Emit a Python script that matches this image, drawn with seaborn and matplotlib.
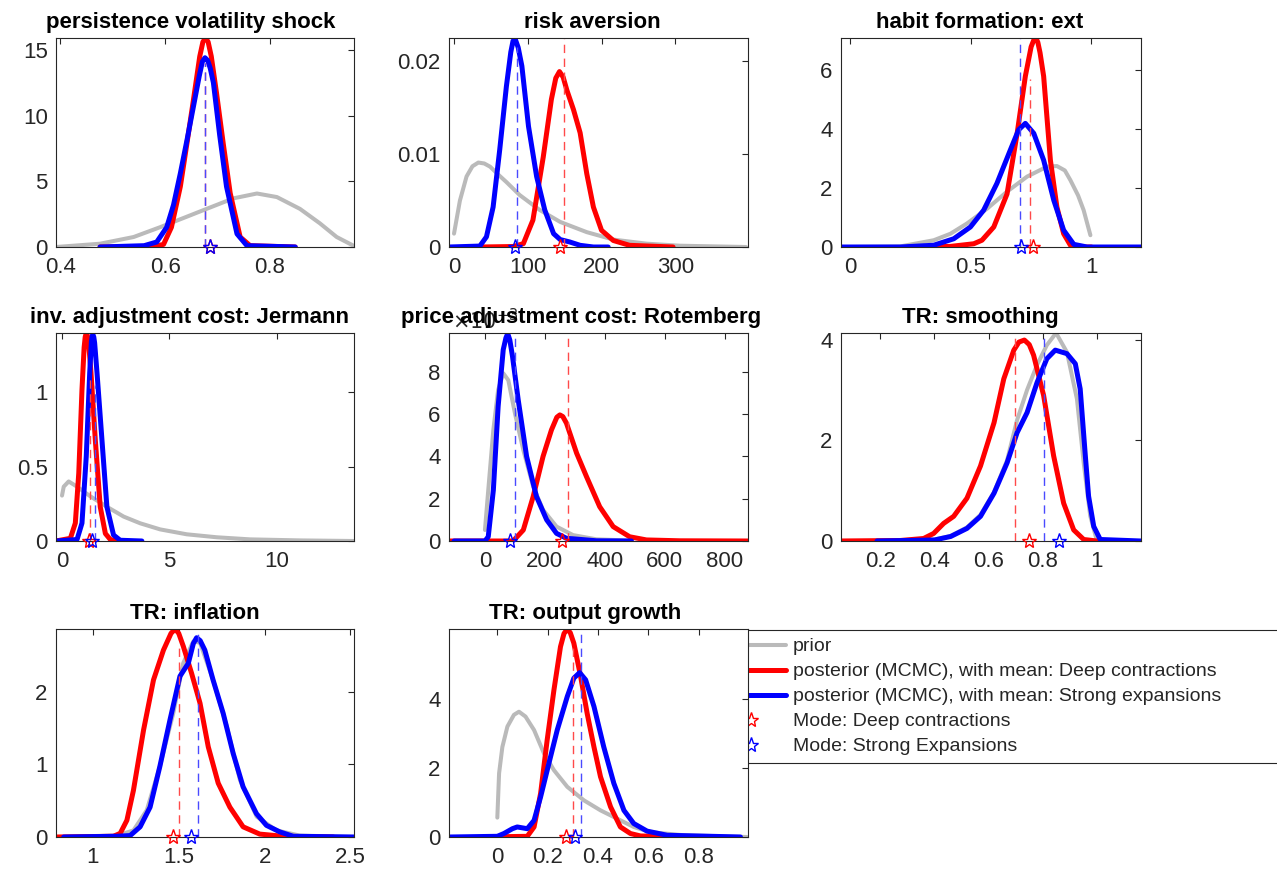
import matplotlib
matplotlib.use("Agg")
import matplotlib.pyplot as plt
import seaborn as sns
from matplotlib.lines import Line2D

# ---- data ----
titles = [
    "persistence volatility shock", "risk aversion", "habit formation: ext",
    "inv. adjustment cost: Jermann", "price adjustment cost: Rotemberg", "TR: smoothing",
    "TR: inflation", "TR: output growth",
]

# persistence volatility shock
pvs_prior_x = [0.392, 0.476, 0.54, 0.59, 0.641, 0.679, 0.73, 0.775, 0.813, 0.857, 0.895, 0.927, 0.959]
pvs_prior_y = [0.0, 0.25, 0.76, 1.5, 2.3, 2.9, 3.7, 4.07, 3.8, 2.9, 1.8, 0.76, 0.1]
pvs_red_x = [0.476, 0.58, 0.597, 0.612, 0.629, 0.642, 0.654, 0.666, 0.672, 0.677, 0.682, 0.688, 0.698,
             0.711, 0.724, 0.743, 0.762, 0.848]
pvs_red_y = [0, 0.05, 0.2, 1.5, 4.6, 8.0, 11.2, 14.5, 15.6, 15.9, 15.6, 14.5, 11.7, 7.8, 4.1, 0.76, 0.1, 0]
pvs_blue_x = [0.476, 0.56, 0.584, 0.603, 0.616, 0.629, 0.642, 0.654, 0.665, 0.671, 0.676, 0.681, 0.686,
              0.692, 0.704, 0.717, 0.737, 0.756, 0.848]
pvs_blue_y = [0, 0.1, 0.38, 1.5, 3.2, 5.6, 8.2, 10.7, 13.0, 14.1, 14.4, 14.2, 13.6, 12.5, 8.5, 4.6, 1.0,
              0.1, 0]

# risk aversion
ra_prior_x = [0, 8, 17, 25, 33, 41, 49, 60, 71, 89, 116, 144, 180, 216, 261, 306, 396]
ra_prior_y = [0.00144, 0.005, 0.0076, 0.0087, 0.0091, 0.009, 0.00865, 0.0078, 0.007, 0.0056, 0.004,
              0.0027, 0.0016, 0.0008, 0.00036, 0.00014, 0.0]
ra_red_x = [35, 80, 94, 107, 121, 132, 138, 143, 148, 153, 162, 171, 180, 189, 200, 216, 238, 297]
ra_red_y = [0, 0.00005, 0.00036, 0.0029, 0.0097, 0.0159, 0.0182, 0.0189, 0.0183, 0.0169, 0.0148,
            0.0123, 0.0079, 0.0043, 0.0018, 0.0007, 0.00018, 0]
ra_blue_x = [-7, 35, 44, 53, 62, 71, 77, 80, 83, 87, 92, 101, 112, 123, 135, 144, 157, 171, 189, 209]
ra_blue_y = [0, 0.0001, 0.0011, 0.0043, 0.0105, 0.0173, 0.021, 0.0222, 0.0224, 0.0215, 0.0195, 0.013,
             0.0076, 0.004, 0.00144, 0.0008, 0.00054, 0.00018, 0.0, 0.0]

# habit formation
hab_prior_x = [0, 0.207, 0.346, 0.415, 0.484, 0.567, 0.65, 0.733, 0.816, 0.857, 0.89, 0.913, 0.945, 0.968, 0.996]
hab_prior_y = [0, 0.02, 0.23, 0.45, 0.8, 1.3, 1.88, 2.39, 2.73, 2.75, 2.6, 2.27, 1.75, 1.25, 0.4]
hab_red_x = [0.29, 0.415, 0.512, 0.546, 0.595, 0.65, 0.692, 0.726, 0.75, 0.762, 0.77, 0.778, 0.787, 0.802,
             0.83, 0.857, 0.885, 0.913, 0.954, 1.0]
hab_red_y = [0, 0.02, 0.11, 0.23, 0.68, 1.8, 3.86, 5.8, 6.8, 7.05, 7.1, 6.95, 6.6, 5.8, 2.95, 1.36, 0.45,
             0.06, 0, 0]
hab_blue_x = [-0.039, 0.207, 0.346, 0.429, 0.498, 0.553, 0.608, 0.664, 0.698, 0.726, 0.761, 0.802, 0.844,
              0.885, 0.927, 0.982, 1.206]
hab_blue_y = [0, 0, 0.06, 0.28, 0.68, 1.25, 2.16, 3.3, 3.98, 4.2, 3.86, 2.95, 1.59, 0.57, 0.09, 0, 0]

# investment adjustment cost
jer_prior_x = [0, 0.08, 0.31, 0.7, 1.32, 2.09, 2.87, 3.64, 4.57, 5.81, 7.21, 8.76, 11.1, 13.6]
jer_prior_y = [0.305, 0.365, 0.4, 0.365, 0.3, 0.23, 0.164, 0.119, 0.078, 0.045, 0.025, 0.011, 0.004, 0.0]
jer_red_x = [-0.28, 0.39, 0.62, 0.78, 0.93, 1.03, 1.08, 1.13, 1.18, 1.24, 1.35, 1.55, 1.78, 2.02, 2.25, 2.56]
jer_red_y = [0, 0.018, 0.12, 0.455, 1.016, 1.3, 1.37, 1.397, 1.38, 1.33, 1.13, 0.68, 0.23, 0.05, 0.01, 0]
jer_blue_x = [-0.28, 0.7, 0.93, 1.13, 1.29, 1.37, 1.41, 1.44, 1.48, 1.52, 1.63, 1.86, 2.09, 2.4, 2.71, 3.72]
jer_blue_y = [0, 0.01, 0.12, 0.57, 1.13, 1.34, 1.38, 1.386, 1.37, 1.33, 1.13, 0.68, 0.23, 0.04, 0.005, 0]

# price adjustment cost
rot_prior_x = [0, 11, 28, 44, 61, 78, 100, 128, 161, 194, 239, 294, 372, 483]
rot_prior_y = [0.00052, 0.0024, 0.00525, 0.00714, 0.00793, 0.0076, 0.00604, 0.0043, 0.00257, 0.00147,
               0.00068, 0.00028, 0.00008, 0.00002]
rot_red_x = [-120, 94, 128, 161, 194, 222, 240, 250, 260, 272, 306, 339, 383, 428, 483, 539, 650, 878]
rot_red_y = [0, 0, 0.00052, 0.0021, 0.004, 0.00525, 0.00585, 0.00596, 0.00588, 0.00557, 0.00415, 0.00304,
             0.00162, 0.00068, 0.0002, 0.00005, 0.00001, 0]
rot_blue_x = [-103, 0, 11, 28, 44, 61, 70, 76, 83, 92, 111, 139, 172, 206, 239, 272, 372, 489]
rot_blue_y = [0, 0, 0.0002, 0.0024, 0.00636, 0.00904, 0.0096, 0.0098, 0.0095, 0.00872, 0.00667, 0.004,
              0.0021, 0.001, 0.00036, 0.00013, 0.00001, 0]

# TR smoothing
sm_prior_x = [0.0, 0.3, 0.4, 0.46, 0.52, 0.57, 0.62, 0.668, 0.705, 0.742, 0.779, 0.815, 0.849, 0.889,
              0.926, 0.951, 0.975, 1.0]
sm_prior_y = [0, 0.005, 0.03, 0.1, 0.27, 0.52, 0.97, 1.6, 2.4, 3.0, 3.5, 3.89, 4.13, 3.75, 2.82, 1.55, 0.5, 0]
sm_red_x = [0.055, 0.274, 0.36, 0.397, 0.434, 0.471, 0.52, 0.57, 0.62, 0.656, 0.693, 0.712, 0.732, 0.75,
            0.766, 0.803, 0.84, 0.877, 0.914, 0.951, 1.0]
sm_red_y = [0, 0.01, 0.05, 0.15, 0.35, 0.49, 0.85, 1.49, 2.35, 3.22, 3.79, 3.95, 3.99, 3.9, 3.69, 2.89,
            1.69, 0.75, 0.22, 0.03, 0]
sm_blue_x = [0.188, 0.4, 0.46, 0.52, 0.57, 0.62, 0.668, 0.705, 0.742, 0.779, 0.815, 0.846, 0.889, 0.92,
             0.938, 0.957, 0.969, 0.988, 1.012, 1.1625]
sm_blue_y = [0, 0.02, 0.09, 0.25, 0.49, 0.95, 1.55, 2.15, 2.55, 3.15, 3.62, 3.79, 3.72, 3.52, 3.02, 1.69,
             0.89, 0.29, 0.03, 0]

# TR inflation
inf_prior_x = [0.83, 1.14, 1.236, 1.314, 1.39, 1.468, 1.526, 1.585, 1.624, 1.7, 1.78, 1.857, 1.954, 2.07,
               2.205, 2.521]
inf_prior_y = [0, 0.02, 0.09, 0.37, 0.97, 1.7, 2.39, 2.69, 2.67, 2.16, 1.52, 0.78, 0.28, 0.09, 0.02, 0]
inf_red_x = [0.785, 1.12, 1.159, 1.198, 1.236, 1.295, 1.353, 1.411, 1.455, 1.479, 1.5, 1.527, 1.575, 1.624,
             1.672, 1.73, 1.798, 1.875, 1.972, 2.108, 2.4]
inf_red_y = [0, 0.01, 0.05, 0.23, 0.64, 1.47, 2.16, 2.57, 2.8, 2.86, 2.8, 2.62, 2.25, 1.84, 1.24, 0.74,
             0.41, 0.14, 0.04, 0.01, 0]
inf_blue_x = [0.83, 1.14, 1.217, 1.275, 1.333, 1.39, 1.449, 1.507, 1.556, 1.585, 1.604, 1.625, 1.652, 1.7,
              1.759, 1.817, 1.875, 1.953, 2.011, 2.089, 2.167, 2.521]
inf_blue_y = [0, 0.01, 0.02, 0.14, 0.41, 0.97, 1.61, 2.21, 2.39, 2.66, 2.74, 2.7, 2.57, 2.16, 1.7, 1.15,
              0.69, 0.32, 0.16, 0.07, 0.01, 0]

# TR output growth
og_prior_x = [0, 0.007, 0.02, 0.04, 0.066, 0.086, 0.112, 0.146, 0.185, 0.225, 0.278, 0.344, 0.41, 0.476,
              0.542, 0.608, 0.741, 0.992]
og_prior_y = [0.56, 1.84, 2.6, 3.19, 3.53, 3.62, 3.48, 3.09, 2.42, 1.93, 1.45, 1.06, 0.77, 0.53, 0.29,
              0.14, 0.05, 0]
og_red_x = [-0.053, 0.119, 0.146, 0.172, 0.198, 0.225, 0.251, 0.265, 0.278, 0.29, 0.304, 0.331, 0.357,
            0.384, 0.41, 0.45, 0.489, 0.529, 0.569, 0.767]
og_red_y = [0, 0.02, 0.29, 1.26, 2.8, 4.25, 5.5, 5.88, 6.01, 5.9, 5.6, 4.64, 3.57, 2.6, 1.74, 0.87, 0.29,
            0.1, 0.03, 0]
og_blue_x = [-0.192, 0, 0.026, 0.06, 0.079, 0.119, 0.146, 0.172, 0.205, 0.238, 0.278, 0.304, 0.327,
             0.351, 0.384, 0.423, 0.463, 0.503, 0.542, 0.595, 0.675, 0.966]
og_blue_y = [0, 0.02, 0.1, 0.24, 0.29, 0.24, 0.48, 1.16, 2.13, 3.09, 4.06, 4.59, 4.75, 4.54, 3.77, 2.6,
             1.55, 0.77, 0.39, 0.17, 0.05, 0]

# posterior means (x, height of dashed line) and modes
red_mean = [(0.676, 14.0), (149, 0.0225), (0.747, 5.7), (1.29, 1.1),
            (278, 0.00983), (0.696, 4.13), (1.5, 2.62), (0.302, 5.5)]
blue_mean = [(0.676, 14.0), (86, 0.0216), (0.703, 7.1), (1.52, 1.05),
             (100, 0.00983), (0.806, 4.13), (1.614, 2.86), (0.331, 6.01)]
red_mode = [0.686, 143.6, 0.758, 1.24, 256, 0.748, 1.465, 0.271]
blue_mode = [0.686, 82.6, 0.708, 1.40, 83, 0.858, 1.57, 0.308]

xlims = [(0.392, 0.96), (-6.8, 398.6), (-0.039, 1.206), (-0.28, 13.6),
         (-120, 878), (0.055, 1.1625), (0.785, 2.521), (-0.192, 0.996)]
ylims = [15.9, 0.02252, 7.1, 1.397, 0.00983, 4.13, 2.86, 6.01]

xticks = [[0.4, 0.6, 0.8], [0, 100, 200, 300], [0, 0.5, 1], [0, 5, 10],
          [0, 200, 400, 600, 800], [0.2, 0.4, 0.6, 0.8, 1], [1, 1.5, 2, 2.5], [0, 0.2, 0.4, 0.6, 0.8]]
xticklabels = [["0.4", "0.6", "0.8"], ["0", "100", "200", "300"], ["0", "0.5", "1"], ["0", "5", "10"],
               ["0", "200", "400", "600", "800"], ["0.2", "0.4", "0.6", "0.8", "1"],
               ["1", "1.5", "2", "2.5"], ["0", "0.2", "0.4", "0.6", "0.8"]]
yticks = [[0, 5, 10, 15], [0, 0.01, 0.02], [0, 2, 4, 6], [0, 0.5, 1],
          [0, 0.002, 0.004, 0.006, 0.008], [0, 2, 4], [0, 1, 2], [0, 2, 4]]
yticklabels = [["0", "5", "10", "15"], ["0", "0.01", "0.02"], ["0", "2", "4", "6"], ["0", "0.5", "1"],
               ["0", "2", "4", "6", "8"], ["0", "2", "4"], ["0", "1", "2"], ["0", "2", "4"]]

legend_labels = ["prior", "posterior (MCMC), with mean: Deep contractions",
                 "posterior (MCMC), with mean: Strong expansions",
                 "Mode: Deep contractions", "Mode: Strong Expansions"]

priors = [(pvs_prior_x, pvs_prior_y), (ra_prior_x, ra_prior_y), (hab_prior_x, hab_prior_y),
          (jer_prior_x, jer_prior_y), (rot_prior_x, rot_prior_y), (sm_prior_x, sm_prior_y),
          (inf_prior_x, inf_prior_y), (og_prior_x, og_prior_y)]
reds = [(pvs_red_x, pvs_red_y), (ra_red_x, ra_red_y), (hab_red_x, hab_red_y),
        (jer_red_x, jer_red_y), (rot_red_x, rot_red_y), (sm_red_x, sm_red_y),
        (inf_red_x, inf_red_y), (og_red_x, og_red_y)]
blues = [(pvs_blue_x, pvs_blue_y), (ra_blue_x, ra_blue_y), (hab_blue_x, hab_blue_y),
         (jer_blue_x, jer_blue_y), (rot_blue_x, rot_blue_y), (sm_blue_x, sm_blue_y),
         (inf_blue_x, inf_blue_y), (og_blue_x, og_blue_y)]

# titles in the reference sit a little left of the axes centre (pixels)
title_shift = [-14, -6, -11, -16, -17, -11, -10, -13]

GREY = "#bababa"
RED = "#ff0000"
BLUE = "#0000ff"
RED_DASH = "#ff4a4a"
BLUE_DASH = "#4a4aff"
DARK = "#262626"


def main():
    sns.set_theme(style="white")
    plt.rcParams["font.family"] = ["Liberation Sans", "DejaVu Sans"]

    W, H = 1277, 876
    fig = plt.figure(figsize=(W / 100, H / 100), dpi=100)

    col_left = [56, 449, 841]
    col_width = [298, 299, 300]
    row_top = [38, 333, 629]
    row_height = [209, 208, 208]

    for i in range(8):
        r, c = divmod(i, 3)
        ax = fig.add_axes([col_left[c] / W, 1 - (row_top[r] + row_height[r]) / H,
                           col_width[c] / W, row_height[r] / H])

        lw = 3.6
        sns.lineplot(x=priors[i][0], y=priors[i][1], ax=ax, color=GREY, linewidth=2.9,
                     sort=False, estimator=None, solid_capstyle="round")
        sns.lineplot(x=reds[i][0], y=reds[i][1], ax=ax, color=RED, linewidth=lw,
                     sort=False, estimator=None, solid_capstyle="round")
        sns.lineplot(x=blues[i][0], y=blues[i][1], ax=ax, color=BLUE, linewidth=lw,
                     sort=False, estimator=None, solid_capstyle="round")

        ax.plot([red_mean[i][0]] * 2, [0, red_mean[i][1]], color=RED_DASH, lw=1.0,
                ls=(0, (6, 4)))
        ax.plot([blue_mean[i][0]] * 2, [0, blue_mean[i][1]], color=BLUE_DASH, lw=1.0,
                ls=(0, (6, 4)))
        ax.plot([red_mode[i]], [0], marker="*", ms=11, mfc="none", mec=RED, mew=1.0,
                ls="none", clip_on=False, zorder=5)
        ax.plot([blue_mode[i]], [0], marker="*", ms=11, mfc="none", mec=BLUE, mew=1.0,
                ls="none", clip_on=False, zorder=5)

        ax.set_xlim(*xlims[i])
        ax.set_ylim(0, ylims[i])
        ax.set_xticks(xticks[i], xticklabels[i])
        ax.set_yticks(yticks[i], yticklabels[i])
        ax.set_xlabel("")
        ax.set_ylabel("")
        ax.tick_params(direction="in", top=True, right=True, length=4, width=0.8,
                       color=DARK, labelcolor=DARK, labelsize=16)
        ax.tick_params(axis="y", pad=6)
        ax.tick_params(axis="x", pad=7)
        for sp in ax.spines.values():
            sp.set_color(DARK)
            sp.set_linewidth(0.8)
        ax.set_title(titles[i], fontsize=16, fontweight="bold", pad=7.5, color="black",
                     x=0.5 + title_shift[i] / col_width[c])

        if i == 4:
            ax.text(0.01, 1.0, r"$\times10^{-3}$", transform=ax.transAxes, ha="left",
                    va="bottom", fontsize=15, color=DARK)

    handles = [
        Line2D([], [], color=GREY, lw=2.9),
        Line2D([], [], color=RED, lw=3.6),
        Line2D([], [], color=BLUE, lw=3.6),
        Line2D([], [], color=RED, marker="*", ms=11, mfc="none", mew=1.0, ls="none"),
        Line2D([], [], color=BLUE, marker="*", ms=11, mfc="none", mew=1.0, ls="none"),
    ]
    leg = fig.legend(handles, legend_labels, loc="upper left",
                     bbox_to_anchor=(708 / W, 1 - 762 / H, 0.5, 132 / H), mode="expand",
                     borderaxespad=0, fontsize=14, handlelength=3.6, handletextpad=0.36,
                     labelspacing=0.38, fancybox=False, framealpha=1, borderpad=0.4)
    leg.get_frame().set_edgecolor(DARK)
    leg.get_frame().set_linewidth(0.8)
    leg.set_zorder(-1)

    fig.savefig("out.png", dpi=100)


if __name__ == "__main__":
    main()
